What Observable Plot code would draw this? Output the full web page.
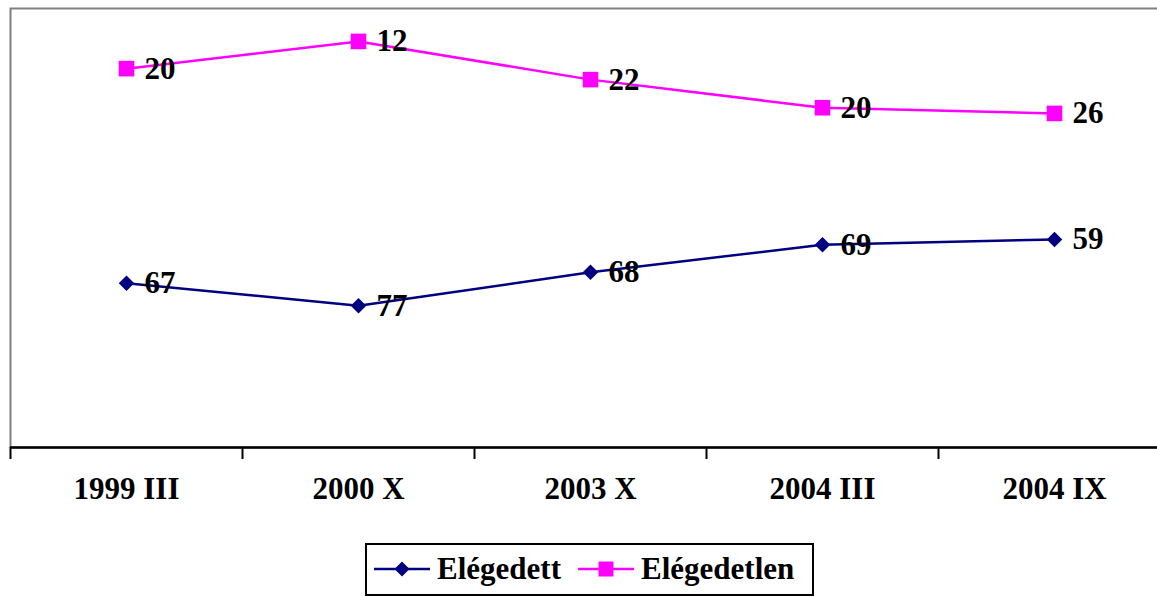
<!DOCTYPE html>
<html>
<head>
<meta charset="utf-8">
<script src="https://cdn.jsdelivr.net/npm/d3@7"></script>
<script src="https://cdn.jsdelivr.net/npm/@observablehq/plot@0.6"></script>
<style>
  html, body { margin: 0; padding: 0; background: #fff; overflow: hidden; width: 1157px; height: 596px; }
  #chart { position: absolute; left: 0; top: 0; width: 1170px; }
  #chart svg { max-width: none !important; width: 1170px; height: 543px; }
  #legend { position: absolute; left: 365px; top: 543px; width: 449px; height: 53px; box-sizing: border-box;
            border: 2px solid #000; background: #fff; font-family: "Liberation Serif", "Times New Roman", serif;
            font-weight: bold; font-size: 31px; color: #000; }
  #legend .sw { position: absolute; top: 14px; }
  #legend .lb { position: absolute; top: 8px; line-height: 31px; white-space: nowrap; }
</style>
</head>
<body>
<div id="chart"></div>
<div id="legend"></div>
<script>
// ---- data ----
const periods = ["1999 III", "2000 X", "2003 X", "2004 III", "2004 IX"];
const seriesNames = ["Elégedett", "Elégedetlen"];
const seriesColors = ["#000080", "#FF00FF"];
// plotted positions (no visible y axis)
const satisfiedPos = [37.4, 32.3, 39.9, 46.2, 47.4];
const dissatisfiedPos = [86.3, 92.5, 83.8, 77.4, 76.1];
// data labels as printed in the picture
const satisfiedLabels = ["67", "77", "68", "69", "59"];
const dissatisfiedLabels = ["20", "12", "22", "20", "26"];

const rows = periods.flatMap((p, i) => [
  {period: p, series: seriesNames[0], pos: satisfiedPos[i], label: satisfiedLabels[i]},
  {period: p, series: seriesNames[1], pos: dissatisfiedPos[i], label: dissatisfiedLabels[i]}
]);

const W = 1170, H = 543, ML = 10;
const bw = (W - ML) / periods.length;
const font = "Liberation Serif";

const chart = Plot.plot({
  width: W, height: H,
  marginLeft: ML, marginRight: 0, marginTop: 8, marginBottom: 96,
  style: {fontFamily: font, fontWeight: "bold", fontSize: "31px", background: "white", color: "black", maxWidth: "none"},
  x: {type: "band", domain: periods, padding: 0, label: null},
  y: {domain: [0, 100], axis: null},
  color: {domain: seriesNames, range: seriesColors},
  marks: [
    Plot.frame({stroke: "#808080", strokeWidth: 2}),
    Plot.ruleY([0], {stroke: "black", strokeWidth: 2.5}),
    Plot.axisX({tickSize: 12, tickFormat: () => "", label: null, dx: -bw / 2, stroke: "black", strokeWidth: 2, strokeOpacity: 1}),
    Plot.axisX({tickSize: 0, tickPadding: 29, label: null, fontSize: 31, fontWeight: "bold", fill: "black", fontFamily: font}),
    Plot.line(rows, {x: "period", y: "pos", z: "series", stroke: "series", strokeWidth: 2.5}),
    Plot.dot(rows.filter(d => d.series === seriesNames[0]), {x: "period", y: "pos", symbol: "diamond2", r: 7, fill: seriesColors[0], stroke: "none"}),
    Plot.dot(rows.filter(d => d.series === seriesNames[1]), {x: "period", y: "pos", symbol: "square", r: 8.8, fill: seriesColors[1], stroke: "none"}),
    Plot.text(rows, {x: "period", y: "pos", text: "label", dx: 18, textAnchor: "start", lineAnchor: "middle",
                     fontSize: 31, fontWeight: "bold", fill: "black", fontFamily: font})
  ]
});
document.getElementById("chart").appendChild(chart);

// ---- legend ----
const legend = document.getElementById("legend");
const items = [
  {name: seriesNames[0], color: seriesColors[0], sym: "diamond", swLeft: 7, txtLeft: 70},
  {name: seriesNames[1], color: seriesColors[1], sym: "square", swLeft: 211, txtLeft: 274}
];
items.forEach(it => {
  const svg = d3.create("svg").attr("class", "sw").attr("width", 56).attr("height", 20)
    .style("left", it.swLeft + "px");
  svg.append("line").attr("x1", 0).attr("x2", 56).attr("y1", 10).attr("y2", 10)
    .attr("stroke", it.color).attr("stroke-width", 2.5);
  if (it.sym === "diamond") {
    svg.append("path").attr("d", "M28,2.5L35.5,10L28,17.5L20.5,10Z").attr("fill", it.color);
  } else {
    svg.append("rect").attr("x", 20.5).attr("y", 2.5).attr("width", 15).attr("height", 15).attr("fill", it.color);
  }
  legend.appendChild(svg.node());
  const lb = document.createElement("span");
  lb.className = "lb";
  lb.style.left = it.txtLeft + "px";
  lb.textContent = it.name;
  legend.appendChild(lb);
});
</script>
</body>
</html>
